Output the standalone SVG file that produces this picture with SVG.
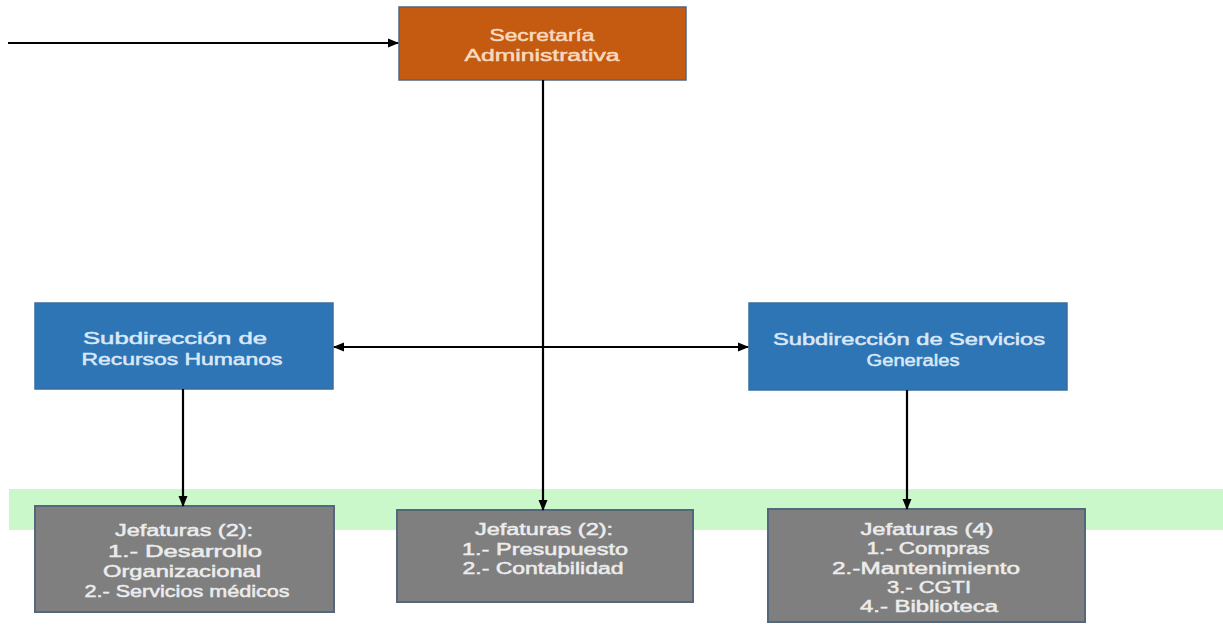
<svg xmlns="http://www.w3.org/2000/svg" width="1223" height="626" viewBox="0 0 1223 626">
<defs>
<marker id="ah" markerWidth="11" markerHeight="11" refX="10" refY="5.5" orient="auto-start-reverse" markerUnits="userSpaceOnUse">
<path d="M0,1 L11,5.5 L0,10 Z" fill="#000"/>
</marker>
<style>
.t{font-family:"Liberation Sans",Arial,sans-serif;font-size:16px;text-anchor:middle;stroke-width:0.5}
.or{fill:#C55A11;stroke:#4d6783;stroke-width:1.5}
.bl{fill:#2E75B6;stroke:#3a6d9e;stroke-width:1.5}
.gr{fill:#7F7F7F;stroke:#55677a;stroke-width:2}
.to{fill:#F8D9BF;stroke:#F8D9BF}
.tb{fill:#D9E8F7;stroke:#D9E8F7}
.tg{fill:#ECECEC;stroke:#ECECEC}
.c{stroke:#000;stroke-width:2.2;fill:none}
</style>
</defs>
<rect width="1223" height="626" fill="#fff"/>
<rect id="band" x="9" y="489" width="1214" height="41" fill="#CAF8CA"/>
<g id="secretaria">
<rect class="or" x="399" y="7" width="287" height="73"/>
<text class="t to" x="542" y="41" textLength="105" lengthAdjust="spacingAndGlyphs">Secretaría</text>
<text class="t to" x="542" y="61" textLength="155" lengthAdjust="spacingAndGlyphs">Administrativa</text>
</g>
<g id="rh">
<rect class="bl" x="35" y="303" width="298" height="86"/>
<text class="t tb" x="175" y="344" textLength="184" lengthAdjust="spacingAndGlyphs">Subdirección de</text>
<text class="t tb" x="182" y="365" textLength="201" lengthAdjust="spacingAndGlyphs">Recursos Humanos</text>
</g>
<g id="sg">
<rect class="bl" x="749" y="303" width="318" height="87"/>
<text class="t tb" x="909" y="345" textLength="272" lengthAdjust="spacingAndGlyphs">Subdirección de Servicios</text>
<text class="t tb" x="913" y="366" textLength="93" lengthAdjust="spacingAndGlyphs">Generales</text>
</g>
<g id="jef-rh">
<rect class="gr" x="35" y="506" width="299" height="106"/>
<text class="t tg" x="184" y="536" textLength="138" lengthAdjust="spacingAndGlyphs">Jefaturas (2):</text>
<text class="t tg" x="185" y="557" textLength="154" lengthAdjust="spacingAndGlyphs">1.- Desarrollo</text>
<text class="t tg" x="182" y="577" textLength="158" lengthAdjust="spacingAndGlyphs">Organizacional</text>
<text class="t tg" x="187" y="597" textLength="205" lengthAdjust="spacingAndGlyphs">2.- Servicios médicos</text>
</g>
<g id="jef-mid">
<rect class="gr" x="397" y="510" width="296" height="92"/>
<text class="t tg" x="544" y="535" textLength="138" lengthAdjust="spacingAndGlyphs">Jefaturas (2):</text>
<text class="t tg" x="545" y="555" textLength="166" lengthAdjust="spacingAndGlyphs">1.- Presupuesto</text>
<text class="t tg" x="543" y="574" textLength="161" lengthAdjust="spacingAndGlyphs">2.- Contabilidad</text>
</g>
<g id="jef-sg">
<rect class="gr" x="768" y="509" width="317" height="113"/>
<text class="t tg" x="927" y="535" textLength="133" lengthAdjust="spacingAndGlyphs">Jefaturas (4)</text>
<text class="t tg" x="928" y="554" textLength="123" lengthAdjust="spacingAndGlyphs">1.- Compras</text>
<text class="t tg" x="926" y="574" textLength="188" lengthAdjust="spacingAndGlyphs">2.-Mantenimiento</text>
<text class="t tg" x="929" y="593" textLength="84" lengthAdjust="spacingAndGlyphs">3.- CGTI</text>
<text class="t tg" x="929" y="612" textLength="138" lengthAdjust="spacingAndGlyphs">4.- Biblioteca</text>
</g>
<g id="connectors">
<line class="c" x1="8" y1="43" x2="398" y2="43" marker-end="url(#ah)"/>
<line class="c" x1="543" y1="80" x2="543" y2="510" marker-end="url(#ah)"/>
<line class="c" x1="334" y1="347" x2="748" y2="347" marker-start="url(#ah)" marker-end="url(#ah)"/>
<line class="c" x1="183" y1="389" x2="183" y2="506" marker-end="url(#ah)"/>
<line class="c" x1="907" y1="390" x2="907" y2="509" marker-end="url(#ah)"/>
</g>
</svg>
